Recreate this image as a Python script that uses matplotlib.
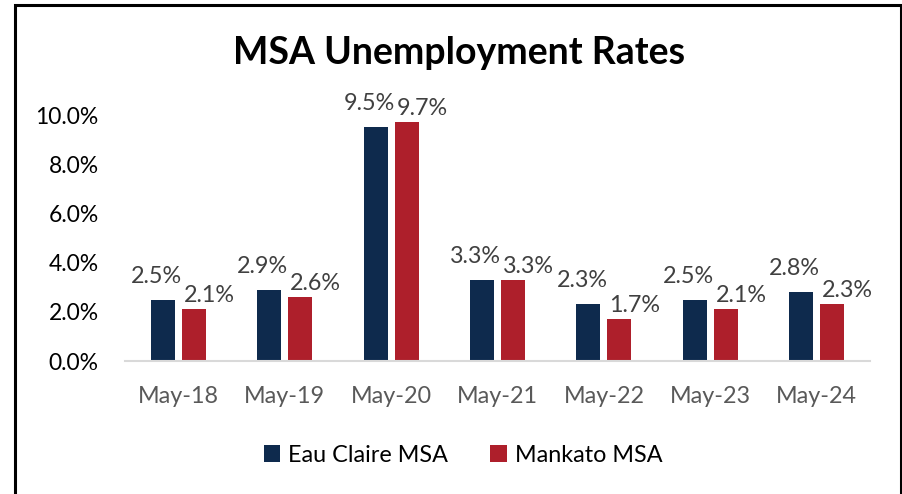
import matplotlib
matplotlib.use("Agg")
import matplotlib.pyplot as plt
from matplotlib.patches import Rectangle, Patch
import numpy as np

categories = ["May-18", "May-19", "May-20", "May-21", "May-22", "May-23", "May-24"]
eau_claire = [2.5, 2.9, 9.5, 3.3, 2.3, 2.5, 2.8]
mankato = [2.1, 2.6, 9.7, 3.3, 1.7, 2.1, 2.3]
series_names = ["Eau Claire MSA", "Mankato MSA"]
yticks = [0, 2, 4, 6, 8, 10]

NAVY = "#0E2A4D"
RED = "#AE1F2B"
FONT = "Lato"
FS = 16.8

W, H = 903, 494
fig = plt.figure(figsize=(W / 100, H / 100), dpi=100)
fig.patch.set_facecolor("white")

# frame
fig.patches.append(Rectangle((15 / W, -0.05), (901 - 15) / W, (H - 5) / H + 0.05,
                             transform=fig.transFigure, fill=False,
                             edgecolor="black", linewidth=2.2))

ax = fig.add_axes([125 / W, (H - 361) / H, 745 / W, 246 / H])
x = np.arange(len(categories))
bw = 0.2256
off = 0.1457
ax.bar(x - off, eau_claire, bw, color=NAVY, label=series_names[0], zorder=2)
ax.bar(x + off, mankato, bw, color=RED, label=series_names[1], zorder=2)

ax.set_xlim(-0.5, len(categories) - 0.5)
ax.set_ylim(0, 10)
ax.set_yticks(yticks)
ax.set_yticklabels([f"{v:.1f}%" for v in yticks], fontsize=16.5, family=FONT, color="black")
ax.set_xticks(x)
ax.set_xticklabels(categories, fontsize=FS, family=FONT, color="#595959")
ax.tick_params(axis="both", length=0)
ax.tick_params(axis="y", pad=19)
ax.tick_params(axis="x", pad=18)
for s in ["top", "right", "left"]:
    ax.spines[s].set_visible(False)
ax.spines["bottom"].set_color("#D9D9D9")
ax.spines["bottom"].set_linewidth(1.5)
ax.set_facecolor("white")

for xi, v in zip(x, eau_claire):
    ax.annotate(f"{v:.1f}%", (xi - off + bw / 2, v), xytext=(7, 17), textcoords="offset pixels",
                ha="right", va="baseline", fontsize=FS, family=FONT,
                color="#404040", annotation_clip=False)
for xi, v in zip(x, mankato):
    ax.annotate(f"{v:.1f}%", (xi + off - bw / 2, v), xytext=(2, 7), textcoords="offset pixels",
                ha="left", va="baseline", fontsize=FS, family=FONT,
                color="#404040", annotation_clip=False)

fig.text(459 / W, 1 - 53 / H, "MSA Unemployment Rates", ha="center", va="center",
         fontsize=27, fontweight="bold", family=FONT, color="black")

handles = [Patch(facecolor=NAVY), Patch(facecolor=RED)]
fig.legend(handles, series_names, loc="center", bbox_to_anchor=(463 / W, 1 - 455 / H),
           ncol=2, frameon=False, prop={"family": FONT, "size": FS},
           handlelength=0.7, handleheight=0.7, handletextpad=0.35, columnspacing=1.8)

fig.savefig("out.png", dpi=100, facecolor="white")
